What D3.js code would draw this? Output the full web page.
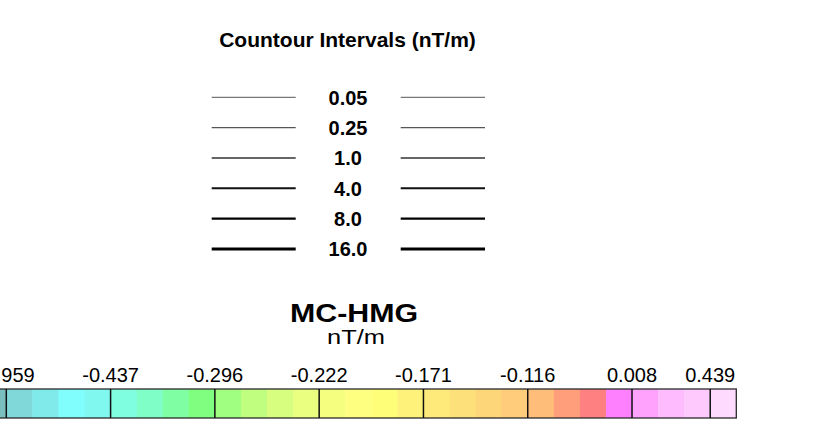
<!DOCTYPE html>
<html><head><meta charset="utf-8">
<script src="https://cdn.jsdelivr.net/npm/d3@7"></script>
<style>html,body{margin:0;padding:0;background:#fff;}svg{display:block;font-family:"Liberation Sans",Arial,sans-serif;}</style>
</head><body>
<svg id="c" width="816" height="437"></svg>
<script>
// Contour interval legend
const intervals = ["0.05", "0.25", "1.0", "4.0", "8.0", "16.0"];
const intervalWidths = [1.0, 1.1, 1.3, 2.0, 2.4, 3.2];
const intervalColors = ["#555", "#555", "#333", "#111", "#000", "#000"];

// Colour bar cells (first one partially clipped at the left edge)
const cellColors = [
  "#7abebe",
  "#80d8d8", "#80eaea", "#80fefe", "#80f8f0",
  "#80fee0", "#80fec8", "#80fea4", "#80fe80",
  "#a0fe80", "#c0fe80", "#d8fe80", "#eafe80",
  "#f6fe80", "#fefe80", "#fefe78", "#fef27a",
  "#feea7a", "#fee07a", "#fed67a", "#fecc7a",
  "#febe7a", "#fe9e7a", "#fe8080", "#fe80fe",
  "#fea2fe", "#febcfe", "#fecafe", "#fedafe"
];
const cellStart = -1;
const tickLabels = ["-0.959", "-0.437", "-0.296", "-0.222", "-0.171", "-0.116", "0.008", "0.439"];
const tickIndex = [0, 4, 8, 12, 16, 20, 24, 27];

const svg = d3.select("#c");

// Title
svg.append("text").attr("x", 347.5).attr("y", 47).attr("text-anchor", "middle")
  .attr("font-weight", "bold").attr("font-size", 21).attr("fill", "#000")
  .text("Countour Intervals (nT/m)");

const yI = d3.scalePoint().domain(intervals).range([97.3, 249]);
const g = svg.append("g");
intervals.forEach((d, i) => {
  const y = yI(d);
  [[211.7, 295.7], [400.7, 485]].forEach(([x1, x2]) => {
    g.append("line").attr("x1", x1).attr("x2", x2).attr("y1", y).attr("y2", y)
      .attr("stroke", intervalColors[i]).attr("stroke-width", intervalWidths[i]);
  });
  g.append("text").attr("x", 348).attr("y", y).attr("dy", "0.36em")
    .attr("text-anchor", "middle").attr("font-weight", "bold").attr("font-size", 20)
    .text(d);
});

// Colour bar title
svg.append("text").attr("x", 354).attr("y", 322).attr("text-anchor", "middle")
  .attr("font-weight", "bold").attr("font-size", 25)
  .attr("textLength", 128).attr("lengthAdjust", "spacingAndGlyphs")
  .text("MC-HMG");
svg.append("text").attr("x", 356).attr("y", 344).attr("text-anchor", "middle")
  .attr("font-size", 21)
  .attr("textLength", 58).attr("lengthAdjust", "spacingAndGlyphs")
  .text("nT/m");

const x = d3.scaleLinear().domain([0, 28]).range([6.3, 736.3]);
const barTop = 389, barH = 29;
svg.append("g").selectAll("rect").data(cellColors).join("rect")
  .attr("x", (d, i) => x(i + cellStart))
  .attr("width", x(1) - x(0) + 0.5)
  .attr("y", barTop).attr("height", barH)
  .attr("fill", d => d);

// outer frame
svg.append("rect").attr("x", x(cellStart)).attr("y", barTop)
  .attr("width", x(28) - x(cellStart)).attr("height", barH)
  .attr("fill", "none").attr("stroke", "#2a2a2a").attr("stroke-width", 1.3);

// separators + labels
tickIndex.forEach((ti, k) => {
  svg.append("line").attr("x1", x(ti)).attr("x2", x(ti))
    .attr("y1", barTop).attr("y2", barTop + barH)
    .attr("stroke", "#111").attr("stroke-width", 1.5);
  svg.append("text").attr("x", x(ti)).attr("y", 382).attr("text-anchor", "middle")
    .attr("font-size", 20).text(tickLabels[k]);
});
</script>
</body></html>
